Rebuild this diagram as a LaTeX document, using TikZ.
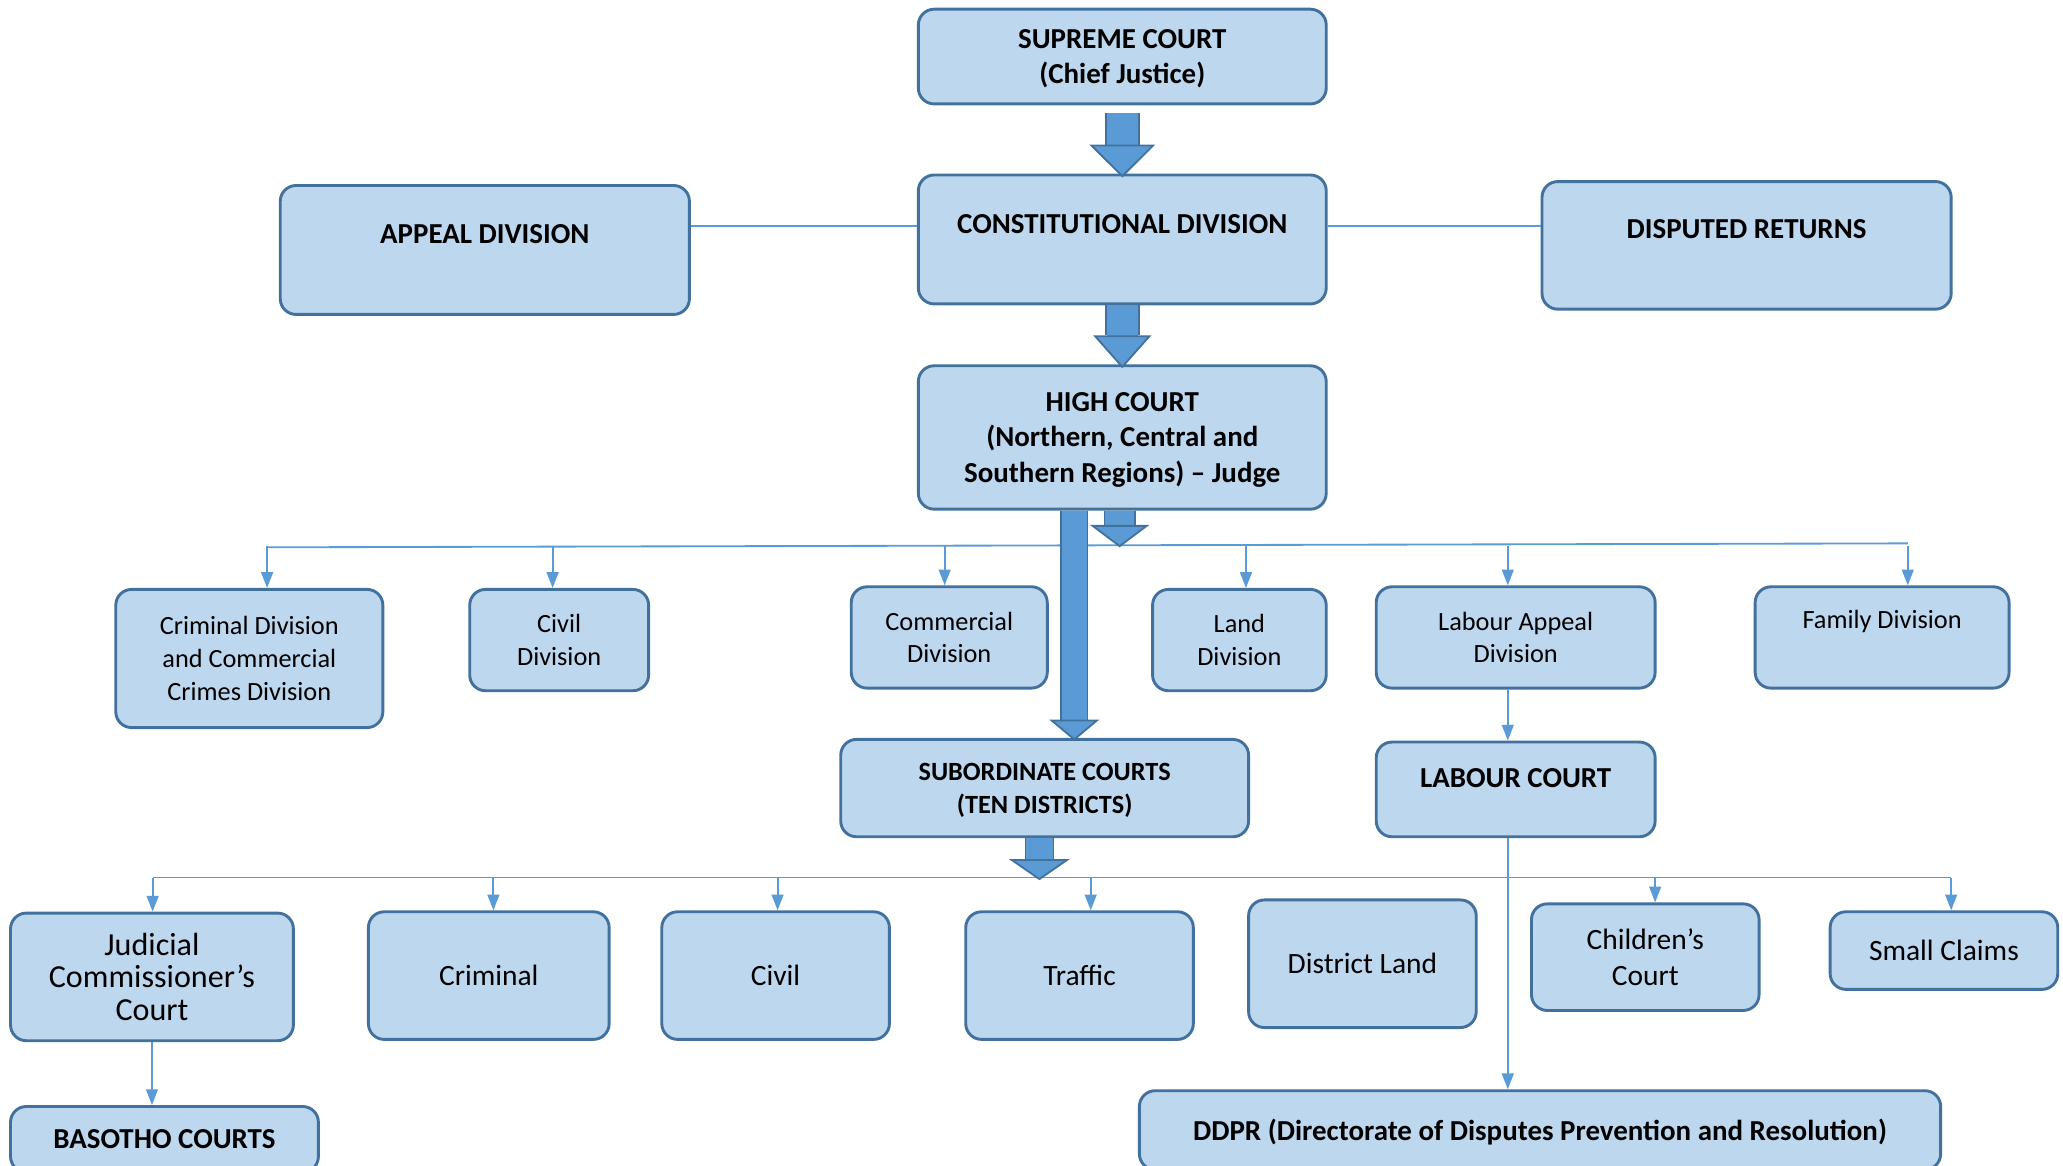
\documentclass[tikz,border=0pt]{standalone}
\usepackage{fontspec}
\setmainfont{Carlito}
\usetikzlibrary{arrows.meta}
\definecolor{boxfill}{HTML}{BDD7EE}
\definecolor{boxline}{HTML}{41719C}
\definecolor{linkblue}{HTML}{5B9BD5}

\begin{document}
\begin{tikzpicture}[x=0.5pt,y=-0.5pt,
    court/.style={draw=boxline, fill=boxfill, line width=1.1pt, rounded corners=6pt, align=center, inner sep=0pt},
    boxdim/.style 2 args={minimum width=#1, minimum height=#2},
    big/.style={font=\fontsize{11}{13.5}\selectfont\bfseries},
    sb/.style={font=\fontsize{10}{12.5}\selectfont\bfseries},
    mid/.style={font=\fontsize{10}{12.5}\selectfont},
    low/.style={font=\fontsize{11.2}{13.5}\selectfont},
    jcf/.style={font=\fontsize{12.2}{12.5}\selectfont},
    link/.style={draw=linkblue, line width=0.7pt},
    drop/.style={link, -{Triangle[length=6pt, width=4.5pt]}},
    fat/.style n args={3}{draw=linkblue, line width=#1,
        -{Triangle[width=#2, length=#3, fill=linkblue, color=boxline, line width=0.7pt]},
        preaction={draw=boxline, line width=#1+1.2pt, shorten >=#3, arrows=-}}]

    \useasboundingbox (0,0) rectangle (1568,886);
    \clip (0,0) rectangle (1568,886);

    % top of the tree
    \node[court, big, boxdim={155pt}{36pt}, text depth=0pt] (sup) at (853,43) {SUPREME COURT\\(Chief Justice)};
    \node[court, big, boxdim={155pt}{49pt}, text depth=12pt] (con) at (853,182) {CONSTITUTIONAL DIVISION};
    \node[court, big, boxdim={155.5pt}{49pt}, text depth=12pt] (app) at (368.5,190) {APPEAL DIVISION};
    \node[court, big, boxdim={155.5pt}{48.5pt}, text depth=12.5pt] (dis) at (1327.5,186.5) {DISPUTED RETURNS};
    \node[court, big, boxdim={155pt}{54.5pt}, text depth=0pt] (high) at (853,332.5) {HIGH COURT\\(Northern, Central and\\Southern Regions) – Judge};

    % divisions of the high court
    \node[court, mid, boxdim={101.5pt}{52.5pt}] (crim) at (189.5,500.5) {Criminal Division\\and Commercial\\Crimes Division};
    \node[court, mid, boxdim={68pt}{38.5pt}] (civ) at (425,486.5) {Civil\\Division};
    \node[court, mid, boxdim={74.5pt}{38.5pt}] (com) at (721.5,484.5) {Commercial\\Division};
    \node[court, mid, boxdim={66pt}{38.5pt}] (land) at (942,486.5) {Land\\Division};
    \node[court, mid, boxdim={106pt}{38.5pt}] (lab) at (1152,484.5) {Labour Appeal\\Division};
    \node[court, mid, boxdim={96.5pt}{38.5pt}, text depth=13.5pt] (fam) at (1430.5,484.5) {Family Division};

    \node[court, sb, boxdim={155pt}{37pt}, text depth=0pt] (sub) at (794,599) {SUBORDINATE COURTS\\(TEN DISTRICTS)};
    \node[court, big, boxdim={106pt}{36pt}, text depth=9pt] (lc) at (1152,600) {LABOUR COURT};

    % subordinate courts
    \node[court, jcf, boxdim={107.5pt}{48.5pt}] (jc) at (115.5,742.5) {Judicial\\Commissioner’s\\Court};
    \node[court, low, boxdim={91.5pt}{48.5pt}] (crm) at (371.5,741.5) {Criminal};
    \node[court, low, boxdim={86.5pt}{48.5pt}] (cvl) at (589.5,741.5) {Civil};
    \node[court, low, boxdim={86.5pt}{48.5pt}] (trf) at (820.5,741.5) {Traffic};
    \node[court, low, boxdim={86.5pt}{48.5pt}] (dl) at (1035.5,732.5) {District Land};
    \node[court, low, boxdim={86.5pt}{40.5pt}] (ch) at (1250.5,727.5) {Children’s\\Court};
    \node[court, low, boxdim={86.5pt}{29.5pt}] (sc) at (1477.5,722.5) {Small Claims};

    \node[court, big, boxdim={117pt}{25pt}] (bas) at (125,866) {BASOTHO COURTS};
    \node[court, big, boxdim={304.5pt}{30pt}, text depth=0pt] (ddpr) at (1170.5,859) {DDPR (Directorate of Disputes Prevention and Resolution)};

    % bus lines
    \coordinate (hbusW) at (203,416);
    \coordinate (hbusE) at (1450,413);
    \coordinate (hbus) at (851,416);
    \coordinate (sbusW) at (116,667);
    \coordinate (sbusE) at (1483,667);
    \coordinate (sbus) at (790,669);

    \draw[link] (app.east |- 0,172) -- (con.west |- 0,172);
    \draw[link] (dis.west |- 0,172) -- (con.east |- 0,172);
    \draw[link] (hbusW) -- (hbusE);
    \draw[link] (sbusW) -- (sbusE);

    \foreach \n/\x in {crim/203, civ/420, com/718, land/947, lab/1146, fam/1450}
        \draw[drop] (\x,415) -- (\x,415 |- \n.north);
    \foreach \n/\x in {jc/116, crm/375, cvl/591, trf/829, ch/1258, sc/1483}
        \draw[drop] (\x,667) -- (\x,667 |- \n.north);

    \draw[drop] ([xshift=-3pt]lab.south) -- ([xshift=-3pt]lc.north);
    \draw[drop] ([xshift=-3pt]lc.south) -- ([xshift=-12.25pt]ddpr.north);
    \draw[drop] (jc.south) -- (jc.south |- bas.north);

    % block arrows
    \draw[fat={12pt}{25pt}{12.5pt}] ([yshift=-3pt]sup.south) -- ([yshift=-1.5pt]con.north);
    \draw[fat={12pt}{22pt}{12.5pt}] (con.south) -- ([yshift=-1.5pt]high.north);
    \draw[fat={11pt}{22.5pt}{8.5pt}] ([xshift=-1pt]high.south) -- (hbus);
    \draw[fat={9.5pt}{19pt}{8pt}] ([xshift=-18.25pt]high.south) -- ([xshift=11.25pt, yshift=-1pt]sub.north);
    \draw[fat={10pt}{23pt}{8pt}] ([xshift=-2pt]sub.south) -- (sbus);

\end{tikzpicture}
\end{document}
